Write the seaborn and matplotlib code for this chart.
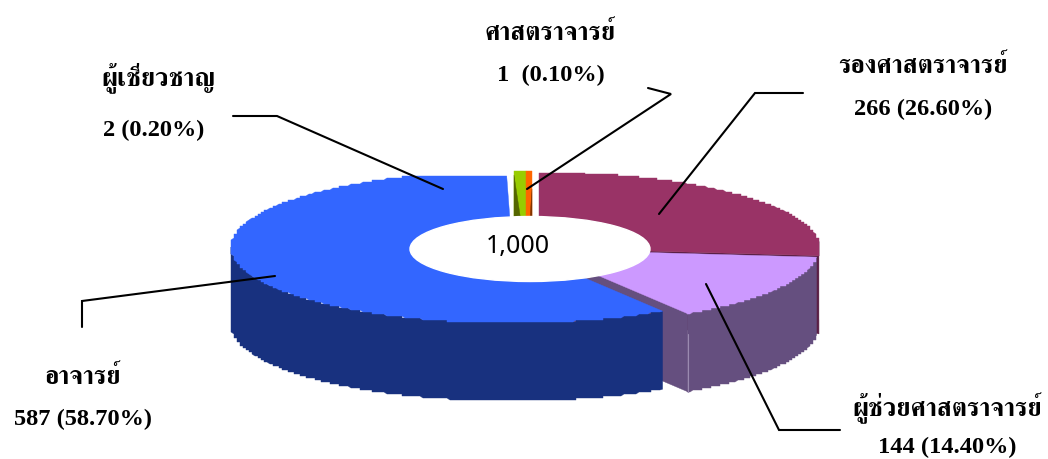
import numpy as np
import matplotlib
matplotlib.use("Agg")
import matplotlib.pyplot as plt
from matplotlib.patches import Ellipse, Polygon
import seaborn as sns

categories = ["รองศาสตราจารย์", "ผู้ช่วยศาสตราจารย์", "อาจารย์", "ผู้เชี่ยวชาญ", "ศาสตราจารย์"]
counts = [266, 144, 587, 2, 1]
percent_labels = ["266 (26.60%)", "144 (14.40%)", "587 (58.70%)", "2 (0.20%)", "1  (0.10%)"]
total_label = "1,000"

top_colors = ["#993366", "#CC99FF", "#3366FF", "#99CC00", "#FF6600"]
wall_colors = ["#5A1F45", "#654F7F", "#18317F", "#556600", "#7F3300"]

sns.set_theme(style="white")

fig = plt.figure(figsize=(10.48, 4.59), dpi=100)
ax = fig.add_axes([0, 0, 1, 1])
ax.set_xlim(0, 1048); ax.set_ylim(459, 0); ax.axis("off")

RX, RY, DEPTH = 281, 76, 78
STEP_X, STEP_Y = 3, 2
centers = [(539, 248), (537, 249.5), (512, 247)]
share = np.array(counts) / sum(counts) * 360
edges = np.concatenate([[0], np.cumsum(share)])

def arc(c, a, b, n=400, ymin=None):
    t = np.radians(np.linspace(a, b, n))
    x = c[0] + RX * np.sin(t)
    y = c[1] - RY * np.cos(t)
    # stepped rim, like the low resolution original
    xs = np.round(x / STEP_X) * STEP_X
    ys = np.round(y / STEP_Y) * STEP_Y
    xs[[0, -1]] = x[[0, -1]]
    ys[[0, -1]] = y[[0, -1]]
    if ymin is not None:
        ys = np.maximum(ys, ymin)
    return np.column_stack([xs, ys])

def add(pts, color, z):
    ax.add_patch(Polygon(pts, closed=True, fc=color, ec=color, lw=0.3, zorder=z))

def wall(c, a, b, color, z):
    p = arc(c, a, b)
    add(np.vstack([p, (p + [0, DEPTH])[::-1]]), color, z)

def radial(c, a, color, z):
    r = arc(c, a, a, 2)[0]
    add([c, r, r + [0, DEPTH], np.array(c) + [0, DEPTH]], color, z)

# associate
wall(centers[0], 85, edges[1], wall_colors[0], 1)
radial(centers[0], edges[1], wall_colors[0], 1)
add(np.vstack([[centers[0]], arc(centers[0], edges[0], edges[1], ymin=173)]), top_colors[0], 2)
# assistant
radial(centers[1], edges[2], wall_colors[1], 3)
wall(centers[1], edges[1], edges[2], wall_colors[1], 3)
add(np.vstack([[centers[1]], arc(centers[1], edges[1], edges[2])]), top_colors[1], 4)
r = arc(centers[1], edges[2], edges[2], 2)[0]
ax.plot([r[0], r[0]], [r[1] + 20, r[1] + DEPTH], color="#9A8AB0", lw=0.8, zorder=4)
# lecturer
wall(centers[2], edges[2], 270, wall_colors[2], 5)
add(np.vstack([[centers[2]], arc(centers[2], edges[2], edges[3], ymin=176)]), top_colors[2], 6)

# tiny slices: exaggerated in proportion to their value
PX = 6
x0, ytop, ybot = 514, 170.5, 248
xe = x0 + counts[3] * PX
xp = xe + counts[4] * PX
add([(x0, ytop), (xe, ytop), (xe, ybot), (x0, ybot)], top_colors[3], 7)
add([(x0, ytop + 4), (x0, ybot), (xe - 1, ybot)], wall_colors[3], 8)
add([(xe, ytop), (xp, ytop), (xp, ybot), (xe, ybot)], top_colors[4], 7)
add([(xp, ytop + 18), (xp, ybot), (xe + 1.5, ybot)], wall_colors[4], 8)

ax.add_patch(Ellipse((530, 249), 240, 65, fc="white", ec="white", zorder=9))
ax.text(518, 247, total_label, ha="center", va="center", fontsize=18, family="Noto Sans", color="black", zorder=10)

leaders = [
    ([803, 755, 659], [93, 93, 214]),
    ([840, 779, 706], [430, 430, 284]),
    ([82, 82, 275], [327, 301, 276]),
    ([233, 277, 443], [116, 116, 189]),
    ([648, 671, 527], [88, 94, 189]),
]
for xs, ys in leaders:
    ax.plot(xs, ys, color="black", lw=1.5, zorder=11, solid_joinstyle="miter")

name_pos = [(923, 66), (947, 408), (83, 377), (158, 78), (550, 33)]
val_pos = [(923, 109), (947, 447), (83, 419), (154, 130), (551, 75)]
for name, val, p, q in zip(categories, percent_labels, name_pos, val_pos):
    ax.text(*p, name, ha="center", va="center", fontsize=18.5, fontweight="bold",
            family=["FreeSerif", "DejaVu Sans"], color="black", zorder=12)
    ax.text(*q, val, ha="center", va="center", fontsize=17.6, fontweight="bold",
            family="Liberation Serif", color="black", zorder=12)

fig.savefig("out.png", dpi=100)
